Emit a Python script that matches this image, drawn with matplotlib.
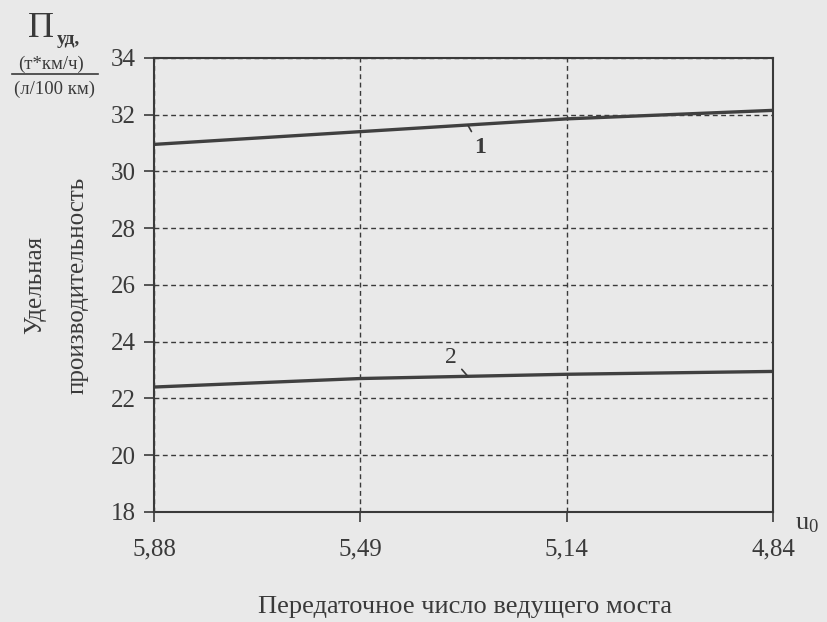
import matplotlib
matplotlib.use('Agg')
import matplotlib.pyplot as plt
import numpy as np

# передаточное число ведущего моста (категории по оси X)
ratios = ['5,88', '5,49', '5,14', '4,84']
# удельная производительность, кривые 1 и 2
curve1 = [30.95, 31.4, 31.85, 32.15]
curve2 = [22.4, 22.7, 22.85, 22.95]
yticks = [18, 20, 22, 24, 26, 28, 30, 32, 34]

ink = '#3a3a3a'
bg = '#e9e9e9'
plt.rcParams['font.family'] = ['Liberation Serif', 'DejaVu Serif']

fig = plt.figure(figsize=(8.28, 6.22), dpi=100, facecolor=bg)
ax = fig.add_axes([0.186, 0.177, 0.748, 0.730])
ax.set_facecolor(bg)

x = np.arange(len(ratios))
ax.plot(x, curve1, color='#404040', lw=2.4, solid_capstyle='butt')
ax.plot(x, curve2, color='#404040', lw=2.4, solid_capstyle='butt')

ax.set_xlim(0, len(ratios) - 1)
ax.set_ylim(18, 34)
ax.set_xticks(x)
ax.set_xticklabels(ratios)
ax.set_yticks(yticks)
ax.tick_params(axis='both', direction='out', length=7, width=1.2, color=ink,
               labelsize=18, labelcolor=ink)
ax.tick_params(axis='x', pad=12)
ax.tick_params(axis='y', pad=6)
ax.grid(True, color=ink, lw=1.0, linestyle=(0, (3.5, 2.5)))
for s in ax.spines.values():
    s.set_color(ink)
    s.set_linewidth(1.5)

# подписи кривых с выносками
xa = 1.52
ax.annotate('1', xy=(xa, np.interp(xa, x, curve1)), xytext=(1.58, 30.85),
            fontsize=17, color=ink, fontweight='bold', ha='center', va='center',
            arrowprops=dict(arrowstyle='-', color=ink, lw=1.2, shrinkA=2, shrinkB=0))
xb = 1.52
ax.annotate('2', xy=(xb, np.interp(xb, x, curve2)), xytext=(1.44, 23.45),
            fontsize=17, color=ink, ha='center', va='center',
            arrowprops=dict(arrowstyle='-', color=ink, lw=1.2, shrinkA=2, shrinkB=0))

# заголовок оси Y
fig.text(0.034, 0.941, 'П', fontsize=26, color=ink, va='baseline', ha='left')
fig.text(0.068, 0.930, 'уд,', fontsize=14, color=ink, va='baseline', ha='left',
         fontweight='bold')
fig.text(0.062, 0.897, '(т*км/ч)', fontsize=13.5, color=ink, va='center', ha='center')
fig.add_artist(plt.Line2D([0.015, 0.118], [0.881, 0.881], color=ink, lw=1.2))
fig.text(0.066, 0.857, '(л/100 км)', fontsize=13.5, color=ink, va='center', ha='center')
fig.text(0.042, 0.542, 'Удельная', fontsize=18, color=ink, rotation=90,
         va='center', ha='center')
fig.text(0.094, 0.542, 'производительность', fontsize=18, color=ink, rotation=90,
         va='center', ha='center')

# заголовок оси X
fig.text(0.975, 0.158, r'$\mathregular{u_0}$', fontsize=19, color=ink,
         va='center', ha='center')
fig.text(0.562, 0.024, 'Передаточное число ведущего моста', fontsize=19,
         color=ink, va='center', ha='center')

fig.savefig('out.png', dpi=100, facecolor=bg)
